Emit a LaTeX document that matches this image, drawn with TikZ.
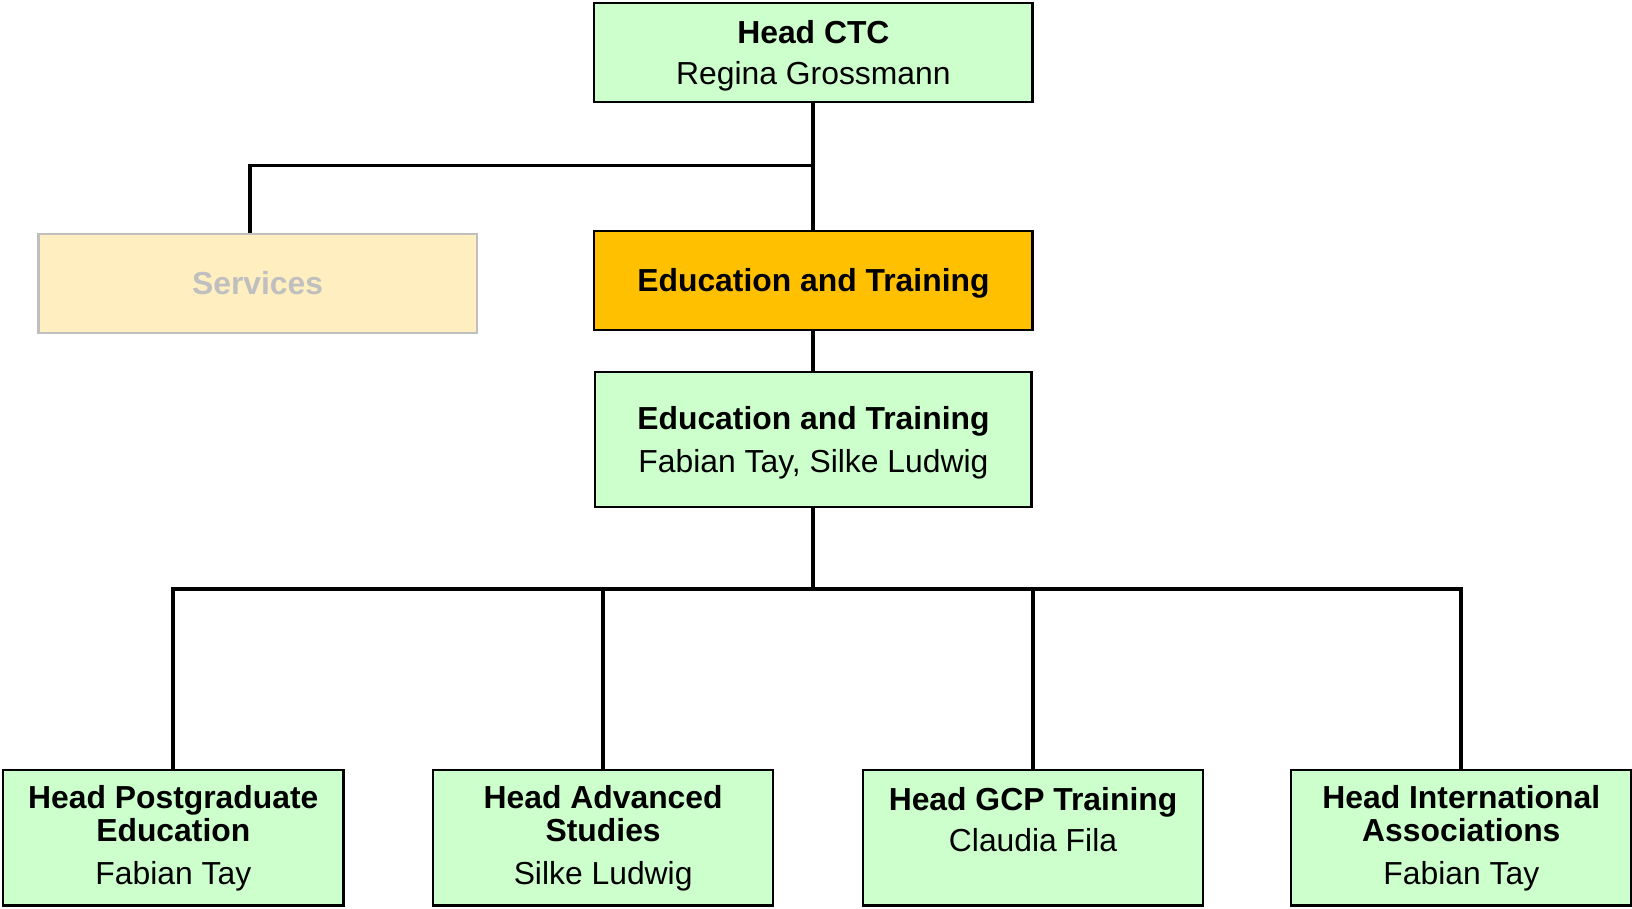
\documentclass[tikz,border=0pt]{standalone}
\usepackage{fontspec}
\setmainfont{Liberation Sans}
\usetikzlibrary{positioning}

\definecolor{unitgreen}{HTML}{CCFFCC}
\definecolor{unitorange}{HTML}{FFC000}
\definecolor{unitcream}{HTML}{FFEEC0}
\definecolor{mutedgrey}{HTML}{BFBFBF}

\newcommand{\padtop}{\rule{0pt}{14.2pt}}

\tikzset{
  unit/.style={draw, line width=1pt, fill=unitgreen, align=center,
    inner sep=0pt, font=\fontsize{15.3}{16}\selectfont},
  wideunit/.style={unit, minimum width=210.5pt, minimum height=47.5pt},
  teamunit/.style={unit, minimum width=209.5pt, minimum height=65pt},
  headunit/.style={unit, minimum width=163.5pt, minimum height=65pt},
  link/.style={line width=1.9pt},
}

\begin{document}
\begin{tikzpicture}[x=0.5pt,y=-0.5pt]
\useasboundingbox (0,0) rectangle (1568,873);
% top of the tree
\node[wideunit] (ctc) at (781.5,50.5) {\padtop\textbf{Head CTC}\\[4pt]Regina Grossmann};
\node[wideunit, draw=mutedgrey, fill=unitcream, text=mutedgrey] (services) at (247.5,272) {\textbf{Services}};
\node[wideunit, fill=unitorange] (edu) at (781.5,269.5) {\padtop\textbf{Education and Training}};
\node[teamunit] (team) at (781.5,422) {\padtop\textbf{Education and Training}\\[4.5pt]Fabian Tay, Silke Ludwig};
% heads of the four fields
\node[headunit] (postgrad) at (166.5,805) {\textbf{Head Postgraduate}\\\textbf{Education}\\[4.5pt]Fabian Tay};
\node[headunit] (advanced) at (579.5,805) {\textbf{Head Advanced}\\\textbf{Studies}\\[4.5pt]Silke Ludwig};
\node[headunit] (gcp) at (992.5,805) {\padtop\textbf{Head GCP Training}\\[4pt]Claudia Fila\\\strut};
\node[headunit] (intl) at (1404,805) {\textbf{Head International}\\\textbf{Associations}\\[4.5pt]Fabian Tay};
% connectors
\coordinate (fork1) at (781.5,159);
\coordinate (fork2) at (781.5,566);
\draw[link] (ctc.south) -- (edu.north);
\draw[link] (fork1) -| ([xshift=-3.75pt]services.north);
\draw[link] (edu.south) -- (team.north);
\draw[link] (team.south) -- (fork2);
\foreach \head in {postgrad,advanced,gcp,intl}
  \draw[link] (fork2) -| (\head.north);
\end{tikzpicture}
\end{document}
